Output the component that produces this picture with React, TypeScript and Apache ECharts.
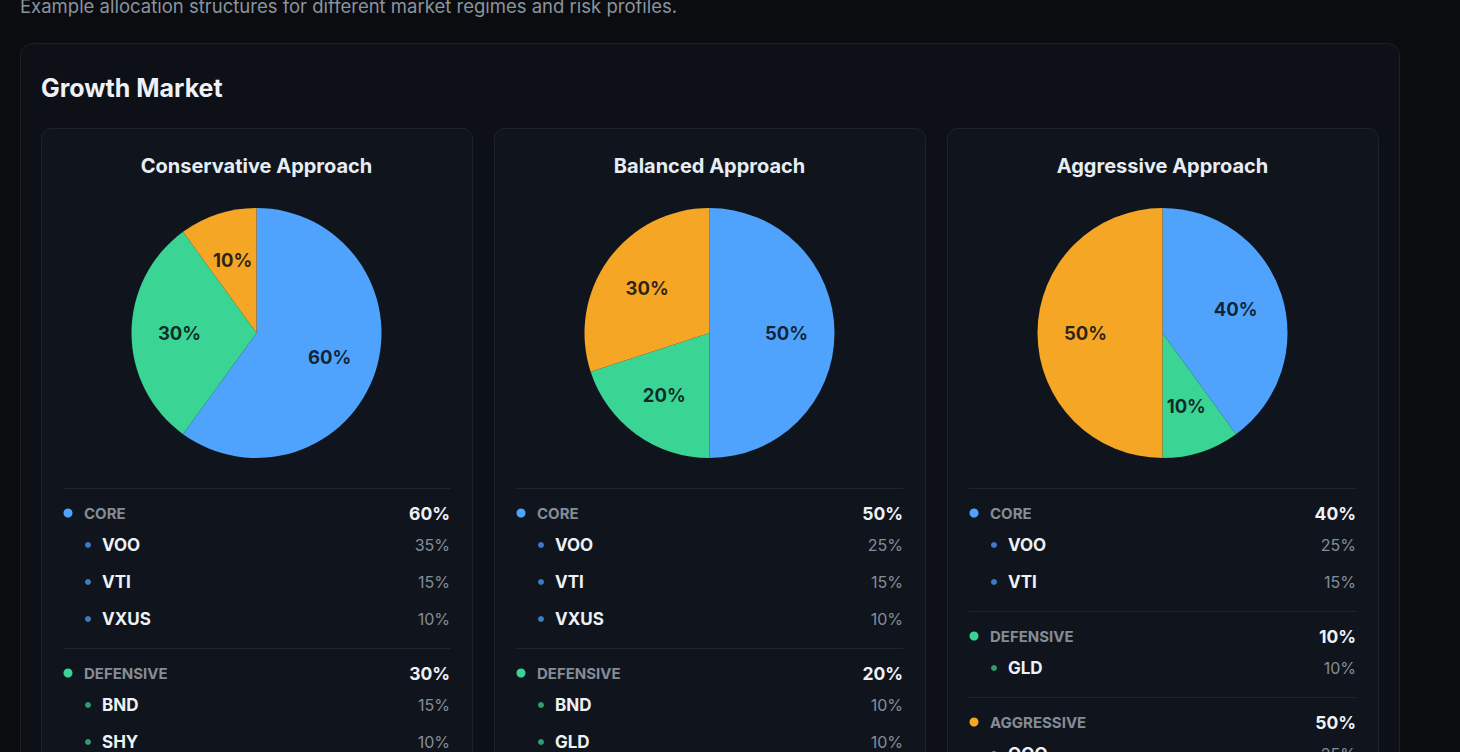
import React, { useEffect, useRef } from "react";
import * as echarts from "echarts";

// ---- data ----
const pageSubtitle = "Example allocation structures for different market regimes and risk profiles.";
const regimeTitle = "Growth Market";
const approaches = ["Conservative Approach", "Balanced Approach", "Aggressive Approach"];
const groupNames = ["Core", "Defensive", "Aggressive"];
const conservativeAlloc = [60, 30, 10];
const balancedAlloc = [50, 20, 30];
const aggressiveAlloc = [40, 10, 50];

const conservativeCoreTickers = ["VOO", "VTI", "VXUS"];
const conservativeCoreWeights = [35, 15, 10];
const conservativeDefTickers = ["BND", "SHY"];
const conservativeDefWeights = [15, 10];

const balancedCoreTickers = ["VOO", "VTI", "VXUS"];
const balancedCoreWeights = [25, 15, 10];
const balancedDefTickers = ["BND", "GLD"];
const balancedDefWeights = [10, 10];

const aggressiveCoreTickers = ["VOO", "VTI"];
const aggressiveCoreWeights = [25, 15];
const aggressiveDefTickers = ["GLD"];
const aggressiveDefWeights = [10];
const aggressiveAggTickers = ["QQQ"];
const aggressiveAggWeights = [25];

// ---- styles ----
const FONT = "Inter, 'Noto Sans', sans-serif";
const groupColors = ["#4fa3fc", "#3ad495", "#f5a625"];
const itemDotColors = ["#3b7cc4", "#2e9e70", "#c08423"];

export default function App() {
  const ref = useRef<HTMLDivElement>(null);

  useEffect(() => {
    if (!ref.current) return;
    document.body.style.background = "#0a0c10";
    const chart = echarts.init(ref.current, undefined, { renderer: "svg" });

    const allocs = [conservativeAlloc, balancedAlloc, aggressiveAlloc];
    const holdings = [
      [
        [conservativeCoreTickers, conservativeCoreWeights],
        [conservativeDefTickers, conservativeDefWeights],
      ],
      [
        [balancedCoreTickers, balancedCoreWeights],
        [balancedDefTickers, balancedDefWeights],
      ],
      [
        [aggressiveCoreTickers, aggressiveCoreWeights],
        [aggressiveDefTickers, aggressiveDefWeights],
        [aggressiveAggTickers, aggressiveAggWeights],
      ],
    ];

    const cardX = [41, 494, 947];
    const cardW = 431;
    const cardTop = 128;
    const pieCY = 333;

    const txt = (x: number, y: number, text: string, fill: string, font: string, align: string) => ({
      type: "text", x, y, z: 1,
      style: { text, fill, font, align, verticalAlign: "middle", textAlign: align, textVerticalAlign: "middle" },
    });

    const graphics: any[] = [];
    graphics.push(txt(20, 6, pageSubtitle, "#8b949e", `400 18.5px ${FONT}`, "left"));
    graphics.push({
      type: "rect", z: 0,
      shape: { x: 20.5, y: 43.5, width: 1379, height: 800, r: 12 },
      style: { fill: "#0d1117", stroke: "#1c2129", lineWidth: 1 },
    });
    graphics.push(txt(41, 88, regimeTitle, "#eef2f6", `700 25px ${FONT}`, "left"));

    const series: any[] = [];

    approaches.forEach((name, ci) => {
      const x0 = cardX[ci];
      const cx = x0 + cardW / 2;
      graphics.push({
        type: "rect", z: 0,
        shape: { x: x0 + 0.5, y: cardTop + 0.5, width: cardW, height: 700, r: 10 },
        style: { fill: "#10151d", stroke: "#1d232c", lineWidth: 1 },
      });
      graphics.push(txt(cx, 166, name, "#e6edf3", `700 20px ${FONT}`, "center"));

      const data = groupNames.map((g, gi) => ({
        name: g,
        value: allocs[ci][gi],
        itemStyle: { color: groupColors[gi] },
      }));

      series.push({
        type: "pie",
        center: [cx, pieCY],
        radius: [0, 125],
        startAngle: 90,
        clockwise: true,
        avoidLabelOverlap: false,
        silent: true,
        label: { show: false },
        labelLine: { show: false },
        itemStyle: { borderWidth: 0 },
        emphasis: { disabled: true },
        data,
      });
      series.push({
        type: "pie",
        center: [cx, pieCY],
        radius: [0, 148],
        startAngle: 90,
        clockwise: true,
        avoidLabelOverlap: false,
        silent: true,
        z: 3,
        itemStyle: { color: "transparent", borderWidth: 0 },
        label: {
          show: true,
          position: "inside",
          formatter: "{c}%",
          color: "rgba(8,12,18,0.85)",
          fontFamily: FONT,
          fontWeight: 700,
          fontSize: 18.5,
        },
        labelLine: { show: false },
        emphasis: { disabled: true },
        data: groupNames.map((g, gi) => ({ name: g, value: allocs[ci][gi], itemStyle: { color: "rgba(0,0,0,0)" } })),
      });

      // list
      const left = x0 + 22;
      const right = x0 + cardW - 22;
      let y = 488;
      const divider = (yy: number) =>
        graphics.push({
          type: "line", z: 1,
          shape: { x1: left, y1: yy + 0.5, x2: right, y2: yy + 0.5 },
          style: { stroke: "#1f262f", lineWidth: 1 },
        });
      divider(y);
      groupNames.forEach((g, gi) => {
        const hold = holdings[ci][gi];
        const hy = y + 25;
        if (hy > 800) return;
        graphics.push({ type: "circle", z: 1, shape: { cx: x0 + 27, cy: hy, r: 4.5 }, style: { fill: groupColors[gi] } });
        graphics.push(txt(x0 + 43, hy, g.toUpperCase(), "#858c96", `700 15px ${FONT}`, "left"));
        graphics.push(txt(right, hy, allocs[ci][gi] + "%", "#eef2f6", `700 17.5px ${FONT}`, "right"));
        let iy = hy + 32;
        let lastY = hy;
        if (hold) {
          const tickers = hold[0] as string[];
          const weights = hold[1] as number[];
          tickers.forEach((t, ti) => {
            graphics.push({ type: "circle", z: 1, shape: { cx: x0 + 47, cy: iy, r: 3 }, style: { fill: itemDotColors[gi] } });
            graphics.push(txt(x0 + 61, iy, t, "#eef2f6", `700 17px ${FONT}`, "left"));
            graphics.push(txt(right, iy, weights[ti] + "%", "#858d98", `400 16px ${FONT}`, "right"));
            lastY = iy;
            iy += 37;
          });
        }
        y = lastY + 29;
        if (gi < groupNames.length - 1 && y < 800) divider(y);
      });
    });

    chart.setOption({
      animation: false,
      backgroundColor: "#0a0c10",
      graphic: { elements: graphics },
      series,
    });

    return () => chart.dispose();
  }, []);

  return (
    <div
      ref={ref}
      style={{ position: "absolute", left: 0, top: 0, width: 1460, height: 752, background: "#0a0c10" }}
    />
  );
}
